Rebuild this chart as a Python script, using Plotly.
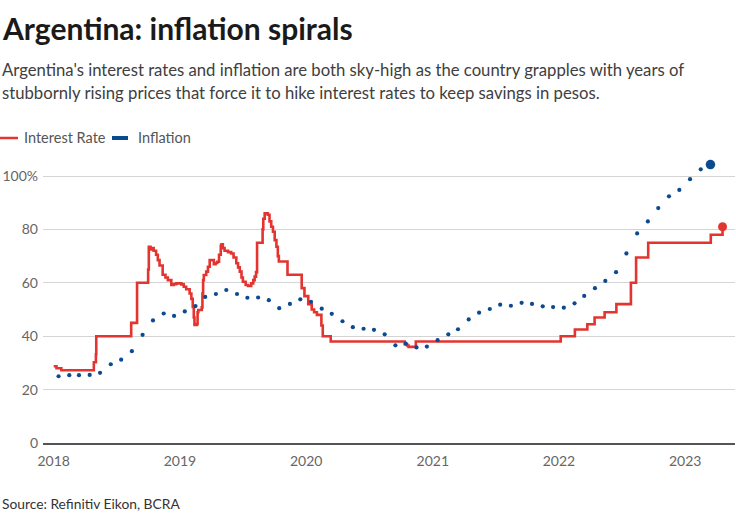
import plotly.graph_objects as go

# ---------------- data ----------------
rate_dates = [
    "2018-01-01", "2018-01-09", "2018-01-23", "2018-04-27", "2018-05-03", "2018-05-04",
    "2018-08-13", "2018-08-30", "2018-10-01", "2018-10-03", "2018-10-08", "2018-10-12",
    "2018-10-17", "2018-10-24", "2018-10-29", "2018-11-03", "2018-11-12", "2018-11-20",
    "2018-11-27", "2018-12-07", "2018-12-14", "2018-12-21", "2019-01-05", "2019-01-12",
    "2019-01-19", "2019-01-29", "2019-02-03", "2019-02-07", "2019-02-10", "2019-02-12",
    "2019-02-19", "2019-02-21", "2019-02-23", "2019-03-05", "2019-03-07", "2019-03-09",
    "2019-03-11", "2019-03-18", "2019-03-23", "2019-03-28", "2019-04-09", "2019-04-14",
    "2019-04-19", "2019-04-24", "2019-04-29", "2019-05-01", "2019-05-05", "2019-05-10",
    "2019-05-20", "2019-05-29", "2019-06-05", "2019-06-13", "2019-06-18", "2019-06-23",
    "2019-06-28", "2019-07-02", "2019-07-10", "2019-07-17", "2019-07-26", "2019-08-01",
    "2019-08-05", "2019-08-09", "2019-08-12", "2019-08-28", "2019-08-30", "2019-09-03",
    "2019-09-12", "2019-09-17", "2019-09-22", "2019-09-27", "2019-10-02", "2019-10-07",
    "2019-10-11", "2019-10-14", "2019-11-08", "2019-12-19", "2019-12-27", "2020-01-07",
    "2020-01-17", "2020-01-24", "2020-02-01", "2020-02-14", "2020-02-18", "2020-03-12",
    "2020-10-12", "2020-10-19", "2020-10-23", "2020-11-13", "2022-01-06", "2022-02-16",
    "2022-03-24", "2022-04-14", "2022-05-13", "2022-06-16", "2022-07-28", "2022-08-12",
    "2022-09-16", "2023-03-16", "2023-04-19",
]
rate_values = [
    28.75, 28.0, 27.25, 30.25, 33.25, 40.0,
    45.0, 60.0, 65.0, 73.5, 72.5, 73.0,
    72.0, 70.5, 68.5, 66.5, 63.0, 62.0,
    61.0, 59.2, 59.5, 59.8, 59.4, 58.5,
    57.6, 56.0, 54.0, 51.0, 47.0, 44.2,
    44.6, 49.0, 49.8, 50.8, 56.0, 61.0,
    62.9, 64.2, 66.0, 68.5, 67.0, 67.4,
    67.9, 70.5, 73.9, 74.4, 73.0, 72.0,
    71.5, 71.0, 69.5, 67.3, 65.8, 64.2,
    62.0, 60.4, 59.2, 58.8, 59.8, 61.0,
    62.3, 64.0, 75.0, 80.0, 84.0, 86.0,
    85.5, 83.0, 81.0, 79.1, 76.0, 73.5,
    70.0, 68.0, 63.0, 58.0, 55.0, 52.0,
    50.0, 49.0, 48.0, 44.0, 40.0, 38.0,
    37.0, 36.5, 36.0, 38.0, 40.0, 42.5,
    44.5, 47.0, 49.0, 52.0, 60.0, 69.5,
    75.0, 78.0, 81.0,
]

inflation_months = [
    "2018-01", "2018-02", "2018-03", "2018-04", "2018-05", "2018-06", "2018-07", "2018-08",
    "2018-09", "2018-10", "2018-11", "2018-12",
    "2019-01", "2019-02", "2019-03", "2019-04", "2019-05", "2019-06", "2019-07", "2019-08",
    "2019-09", "2019-10", "2019-11", "2019-12",
    "2020-01", "2020-02", "2020-03", "2020-04", "2020-05", "2020-06", "2020-07", "2020-08",
    "2020-09", "2020-10", "2020-11", "2020-12",
    "2021-01", "2021-02", "2021-03", "2021-04", "2021-05", "2021-06", "2021-07", "2021-08",
    "2021-09", "2021-10", "2021-11", "2021-12",
    "2022-01", "2022-02", "2022-03", "2022-04", "2022-05", "2022-06", "2022-07", "2022-08",
    "2022-09", "2022-10", "2022-11", "2022-12",
    "2023-01", "2023-02", "2023-03",
]
inflation_values = [
    25.0, 25.4, 25.4, 25.5, 26.3, 29.5, 31.2, 34.4, 40.5, 45.9, 48.5, 47.6,
    49.3, 51.3, 54.7, 55.8, 57.3, 55.8, 54.4, 54.5, 53.5, 50.5, 52.1, 53.8,
    52.9, 50.3, 48.4, 45.6, 43.4, 42.8, 42.4, 40.7, 36.6, 37.2, 35.8, 36.1,
    38.5, 40.7, 42.6, 46.3, 48.8, 50.2, 51.8, 51.4, 52.5, 52.1, 51.2, 50.9,
    50.7, 52.3, 55.1, 58.0, 60.7, 64.0, 71.0, 78.5, 83.0, 88.0, 92.4, 94.8,
    98.8, 102.5, 104.3,
]

year_ticks = ["2018-01-01", "2019-01-01", "2020-01-01", "2021-01-01", "2022-01-01", "2023-01-01"]
year_labels = ["2018", "2019", "2020", "2021", "2022", "2023"]
y_ticks = [0, 20, 40, 60, 80, 100]
y_labels = ["0", "20", "40", "60", "80", "100%"]

# ---------------- style ----------------
RED = "#e3342f"
BLUE = "#0b4a8e"
FONT = "Lato"
W, H = 736, 514
L, R, T, B = 43, 1, 160, 71
PW = W - L - R
PH = H - T - B

def px_x(x):
    return (x - L) / PW

def px_y(y):
    return (H - B - y) / PH

infl_dates = [m + "-15" for m in inflation_months]

fig = go.Figure()
fig.add_trace(go.Scatter(
    x=rate_dates, y=rate_values, mode="lines", line=dict(color=RED, width=2.6, shape="hv"),
    showlegend=False, cliponaxis=False,
))
fig.add_trace(go.Scatter(
    x=[rate_dates[-1]], y=[rate_values[-1]], mode="markers",
    marker=dict(color=RED, size=9), showlegend=False, cliponaxis=False,
))
fig.add_trace(go.Scatter(
    x=infl_dates[:-1], y=inflation_values[:-1], mode="markers",
    marker=dict(color=BLUE, size=4.2), showlegend=False, cliponaxis=False,
))
fig.add_trace(go.Scatter(
    x=[infl_dates[-1]], y=[inflation_values[-1]], mode="markers",
    marker=dict(color=BLUE, size=9.5), showlegend=False, cliponaxis=False,
))

annotations = [
    dict(text="<b>Argentina: inflation spirals</b>", x=px_x(0), y=px_y(28), xref="paper", yref="paper",
         xanchor="left", yanchor="middle", showarrow=False, font=dict(family=FONT, size=30, color="#1a1a1a")),
    dict(text="Argentina's interest rates and inflation are both sky-high as the country grapples with years of",
         x=px_x(0), y=px_y(70), xref="paper", yref="paper", xanchor="left", yanchor="middle",
         showarrow=False, font=dict(family=FONT, size=16.7, color="#404040")),
    dict(text="stubbornly rising prices that force it to hike interest rates to keep savings in pesos.",
         x=px_x(0), y=px_y(93), xref="paper", yref="paper", xanchor="left", yanchor="middle",
         showarrow=False, font=dict(family=FONT, size=16.7, color="#404040")),
    dict(text="Interest Rate", x=px_x(22), y=px_y(138), xref="paper", yref="paper", xanchor="left",
         yanchor="middle", showarrow=False, font=dict(family=FONT, size=14.5, color="#555555")),
    dict(text="Inflation", x=px_x(136), y=px_y(138), xref="paper", yref="paper", xanchor="left",
         yanchor="middle", showarrow=False, font=dict(family=FONT, size=14.5, color="#555555")),
    dict(text="Source: Refinitiv Eikon, BCRA", x=px_x(0), y=px_y(503), xref="paper", yref="paper",
         xanchor="left", yanchor="middle", showarrow=False, font=dict(family=FONT, size=13.8, color="#333333")),
]

shapes = [
    dict(type="line", xref="paper", yref="paper", x0=px_x(0), x1=px_x(18), y0=px_y(138), y1=px_y(138),
         line=dict(color=RED, width=2.5)),
    dict(type="line", xref="paper", yref="paper", x0=px_x(112), x1=px_x(128), y0=px_y(138), y1=px_y(138),
         line=dict(color=BLUE, width=4)),
]

fig.update_layout(
    width=W, height=H, margin=dict(l=L, r=R, t=T, b=B),
    paper_bgcolor="white", plot_bgcolor="white",
    annotations=annotations, shapes=shapes,
    font=dict(family=FONT),
    xaxis=dict(
        type="date", range=["2017-12-01", "2023-05-25"], tickvals=year_ticks, ticktext=year_labels,
        showgrid=False, showline=True, linecolor="#555555", linewidth=1.5, ticks="",
        tickfont=dict(family=FONT, size=14, color="#666666"), ticklabelstandoff=4, zeroline=False,
    ),
    yaxis=dict(
        range=[0, 106], tickvals=y_ticks, ticktext=y_labels, showgrid=True, gridcolor="#d4d4d4",
        gridwidth=1, zeroline=False, ticks="", showline=False,
        tickfont=dict(family=FONT, size=14, color="#666666"), ticklabelstandoff=4,
    ),
)

fig.write_html(
    "out.html",
    config={"displayModeBar": False},
    post_script="document.body.style.margin='0';document.body.style.overflow='hidden';",
)
